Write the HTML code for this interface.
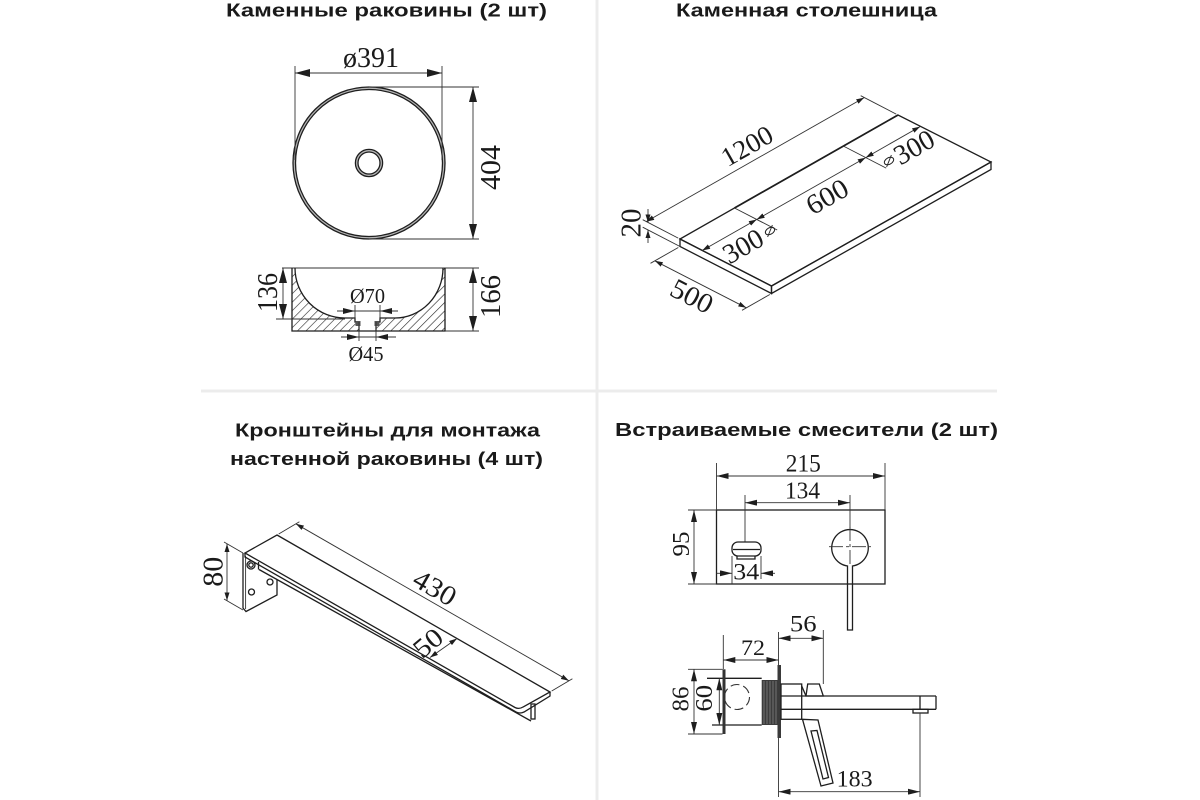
<!DOCTYPE html>
<html>
<head>
<meta charset="utf-8">
<style>
html,body{margin:0;padding:0;background:#fff;}
svg{display:block;}
.t{font-family:"Liberation Sans","DejaVu Sans",sans-serif;font-weight:bold;fill:#1a1a1a;font-size:18px;}
.n{font-family:"Liberation Serif","DejaVu Serif",serif;fill:#1a1a1a;}
.o{fill:none;stroke:#1e1e1e;stroke-width:1.3;}
.d{fill:none;stroke:#333;stroke-width:0.9;}
</style>
</head>
<body>
<svg width="1200" height="800" viewBox="0 0 1200 800" xmlns="http://www.w3.org/2000/svg">
<defs>
<marker id="mL" viewBox="0 0 15 8" refX="15" refY="4" markerWidth="15" markerHeight="8" markerUnits="userSpaceOnUse" orient="auto-start-reverse"><path d="M0,0L15,4L0,8z" fill="#1e1e1e"/></marker>
<marker id="mM" viewBox="0 0 12 6" refX="12" refY="3" markerWidth="12" markerHeight="6" markerUnits="userSpaceOnUse" orient="auto-start-reverse"><path d="M0,0L12,3L0,6z" fill="#1e1e1e"/></marker>
<marker id="mS" viewBox="0 0 8 5" refX="8" refY="2.5" markerWidth="8" markerHeight="5" markerUnits="userSpaceOnUse" orient="auto-start-reverse"><path d="M0,0L8,2.5L0,5z" fill="#1e1e1e"/></marker>
<pattern id="hatch" width="6" height="6" patternUnits="userSpaceOnUse" patternTransform="rotate(45)"><line x1="0" y1="-1" x2="0" y2="7" stroke="#222" stroke-width="1.2"/></pattern>
</defs>

<rect width="1200" height="800" fill="#fff"/>

<!-- separators -->
<line x1="597" y1="0" x2="597" y2="800" stroke="#ececec" stroke-width="3"/>
<line x1="201" y1="391" x2="997" y2="391" stroke="#ececec" stroke-width="3"/>

<!-- titles -->
<text class="t" x="226" y="16.5" textLength="321" lengthAdjust="spacingAndGlyphs">Каменные раковины (2 шт)</text>
<text class="t" x="676" y="16.5" textLength="261" lengthAdjust="spacingAndGlyphs">Каменная столешница</text>
<text class="t" x="235" y="436.5" textLength="305" lengthAdjust="spacingAndGlyphs">Кронштейны для монтажа</text>
<text class="t" x="230" y="465" textLength="313" lengthAdjust="spacingAndGlyphs">настенной раковины (4 шт)</text>
<text class="t" x="615" y="436" textLength="383" lengthAdjust="spacingAndGlyphs">Встраиваемые смесители (2 шт)</text>

<!-- ============ SINK TOP VIEW ============ -->
<circle cx="369" cy="163" r="74.8" fill="none" stroke="#b5b5b5" stroke-width="1.6"/>
<circle cx="369" cy="163" r="76" class="o" stroke-width="1.1"/>
<circle cx="369" cy="163" r="73.5" class="o" stroke-width="1"/>
<circle cx="369" cy="163" r="12.3" fill="none" stroke="#b5b5b5" stroke-width="1.6"/>
<circle cx="369" cy="163" r="13.6" class="o" stroke-width="1.1"/>
<circle cx="369" cy="163" r="11" class="o" stroke-width="1"/>
<!-- ø391 -->
<line class="d" x1="295" y1="66" x2="295" y2="160"/>
<line class="d" x1="442" y1="66" x2="442" y2="160"/>
<line class="d" x1="295" y1="73" x2="442" y2="73" marker-start="url(#mL)" marker-end="url(#mL)"/>
<text class="n" x="371" y="67" font-size="28" text-anchor="middle" textLength="56" lengthAdjust="spacingAndGlyphs">ø391</text>
<!-- 404 -->
<line class="d" x1="369" y1="87" x2="479" y2="87"/>
<line class="d" x1="369" y1="239" x2="479" y2="239"/>
<line class="d" x1="473" y1="87" x2="473" y2="239" marker-start="url(#mL)" marker-end="url(#mL)"/>
<text class="n" transform="translate(490,167.5) rotate(-90)" x="0" y="10" font-size="29" text-anchor="middle" textLength="45" lengthAdjust="spacingAndGlyphs">404</text>

<!-- ============ SINK SECTION ============ -->
<path d="M292,268 L295,268 A50,50 0 0 0 345,318 L355,318 L355,322 L359,322 L359,331 L292,331 Z M376,331 L376,322 L380,322 L380,318 L395,318 A48,50 0 0 0 443,268 L445,268 L445,331 Z" fill="url(#hatch)" stroke="none"/>
<line class="d" x1="282" y1="268" x2="479" y2="268"/>
<path class="o" d="M292,268 L292,331 L445,331 L445,268"/>
<path class="o" d="M295,268 A50,50 0 0 0 345,318 L355,318 L355,322 L359,322 L359,331 M376,331 L376,322 L380,322 L380,318 L395,318 A48,50 0 0 0 443,268"/>
<rect x="355.5" y="321" width="5" height="5" fill="#555"/>
<rect x="374.5" y="321" width="5" height="5" fill="#555"/>
<!-- 136 -->
<line class="d" x1="276" y1="319" x2="345" y2="319"/>
<line class="d" x1="283" y1="268" x2="283" y2="319" marker-start="url(#mL)" marker-end="url(#mL)"/>
<text class="n" transform="translate(267.5,292.5) rotate(-90)" x="0" y="9.5" font-size="28" text-anchor="middle" textLength="39" lengthAdjust="spacingAndGlyphs">136</text>
<!-- 166 -->
<line class="d" x1="445" y1="331" x2="479" y2="331"/>
<line class="d" x1="473" y1="268" x2="473" y2="331" marker-start="url(#mL)" marker-end="url(#mL)"/>
<text class="n" transform="translate(490,296.5) rotate(-90)" x="0" y="10" font-size="29" text-anchor="middle" textLength="43" lengthAdjust="spacingAndGlyphs">166</text>
<!-- Ø70 -->
<line class="d" x1="355" y1="305" x2="355" y2="319"/>
<line class="d" x1="380" y1="305" x2="380" y2="319"/>
<line class="d" x1="355" y1="311" x2="380" y2="311"/>
<line class="d" x1="337" y1="311" x2="355" y2="311" marker-end="url(#mM)"/>
<line class="d" x1="398" y1="311" x2="380" y2="311" marker-end="url(#mM)"/>
<text class="n" x="367.5" y="303" font-size="21" text-anchor="middle" textLength="35" lengthAdjust="spacingAndGlyphs">Ø70</text>
<!-- Ø45 -->
<line class="d" x1="359" y1="322" x2="359" y2="341"/>
<line class="d" x1="376" y1="322" x2="376" y2="341"/>
<line class="d" x1="359" y1="337" x2="376" y2="337"/>
<line class="d" x1="341" y1="337" x2="359" y2="337" marker-end="url(#mM)"/>
<line class="d" x1="396" y1="337" x2="376" y2="337" marker-end="url(#mM)"/>
<text class="n" x="366" y="361" font-size="21" text-anchor="middle" textLength="35" lengthAdjust="spacingAndGlyphs">Ø45</text>

<!-- ============ COUNTERTOP ============ -->
<polygon class="o" points="680,239 771.5,286 991,162 898,115" fill="#fff"/>
<polygon class="o" points="680,239 771.5,286 771.5,293.5 680,246.5" fill="#fff"/>
<polygon class="o" points="771.5,286 991,162 991,169.5 771.5,293.5" fill="#fff"/>
<line x1="734.5" y1="208" x2="898" y2="115" stroke="#1e1e1e" stroke-width="1.7"/>
<!-- 1200 -->
<line class="d" x1="678.2" y1="238.1" x2="642.7" y2="219.7"/>
<line class="d" x1="896.2" y1="114.1" x2="860.7" y2="95.7"/>
<line class="d" x1="646.2" y1="221.6" x2="864.2" y2="97.6" marker-start="url(#mS)" marker-end="url(#mS)"/>
<text class="n" transform="translate(747,146) rotate(-29.6)" x="0" y="9" font-size="27" text-anchor="middle" textLength="55" lengthAdjust="spacingAndGlyphs">1200</text>
<!-- 20 -->
<line class="d" x1="680" y1="246.5" x2="642.7" y2="227.2"/>
<line class="d" x1="648" y1="209" x2="648" y2="222.5" marker-end="url(#mS)"/>
<line class="d" x1="648" y1="243" x2="648" y2="230" marker-end="url(#mS)"/>
<text class="n" transform="translate(631,223) rotate(-90)" x="0" y="9.5" font-size="28" text-anchor="middle" textLength="29" lengthAdjust="spacingAndGlyphs">20</text>
<!-- 500 -->
<line class="d" x1="678.3" y1="247.5" x2="650.5" y2="263.3"/>
<line class="d" x1="769.8" y1="294.5" x2="742" y2="310.3"/>
<line class="d" x1="654.8" y1="260.8" x2="746.3" y2="307.8" marker-start="url(#mS)" marker-end="url(#mS)"/>
<text class="n" transform="translate(692,296) rotate(27.3)" x="0" y="9.5" font-size="28" text-anchor="middle" textLength="44" lengthAdjust="spacingAndGlyphs">500</text>
<!-- sink positions -->
<line class="d" x1="734.5" y1="208" x2="777.2" y2="230"/>
<line class="d" x1="843.5" y1="146.1" x2="886.2" y2="168.1"/>
<line class="d" x1="702.2" y1="250.5" x2="756.7" y2="219.5" marker-start="url(#mS)" marker-end="url(#mS)"/>
<line class="d" x1="756.7" y1="219.5" x2="865.7" y2="157.6" marker-start="url(#mS)" marker-end="url(#mS)"/>
<line class="d" x1="865.7" y1="157.6" x2="920.1" y2="126.6" marker-start="url(#mS)" marker-end="url(#mS)"/>
<text class="n" transform="translate(743,246) rotate(-29.6)" x="0" y="9.5" font-size="28" text-anchor="middle" textLength="42" lengthAdjust="spacingAndGlyphs">300</text>
<text class="n" transform="translate(827,196.5) rotate(-29.6)" x="0" y="9.5" font-size="28" text-anchor="middle" textLength="44" lengthAdjust="spacingAndGlyphs">600</text>
<text class="n" transform="translate(914,147) rotate(-29.6)" x="0" y="9.5" font-size="28" text-anchor="middle" textLength="42" lengthAdjust="spacingAndGlyphs">300</text>
<g transform="translate(770,231) rotate(-29.6)"><ellipse cx="0" cy="0" rx="5" ry="3.3" fill="none" stroke="#222" stroke-width="1"/><line x1="-5" y1="4" x2="5" y2="-4" stroke="#222" stroke-width="0.9"/></g>
<g transform="translate(889,161) rotate(-29.6)"><ellipse cx="0" cy="0" rx="5" ry="3.3" fill="none" stroke="#222" stroke-width="1"/><line x1="-5" y1="4" x2="5" y2="-4" stroke="#222" stroke-width="0.9"/></g>

<!-- ============ BRACKET ============ -->
<path class="o" d="M243,553 L243,608 L246,611.5 L277,595 L277,579.5" fill="#fff"/>
<line class="d" x1="245.6" y1="556" x2="245.6" y2="609"/>
<circle cx="251" cy="565" r="4" class="o" stroke-width="1.1"/>
<circle cx="251" cy="565" r="2.2" class="o" stroke-width="0.9"/>
<circle cx="270" cy="582" r="3" class="o" stroke-width="1.1"/>
<circle cx="251.5" cy="592" r="3" class="o" stroke-width="1.1"/>
<line class="o" x1="258.5" y1="562" x2="258.5" y2="569.5"/>
<line class="o" x1="259" y1="569.5" x2="531" y2="721"/>
<rect x="531" y="704" width="4" height="15" class="o" fill="#fff"/>
<path class="o" d="M245,553 L245,557 L516,712 Q520,714 524,712 L550,696 L550,692" fill="#fff"/>
<path class="o" d="M277,535 L550,692 L523,707 Q519,709.5 515,707.5 L245,553 Z" fill="#fff"/>
<!-- 430 -->
<line class="d" x1="278.7" y1="534" x2="299.4" y2="521.7"/>
<line class="d" x1="551.7" y1="691" x2="572.4" y2="678.7"/>
<line class="d" x1="295.9" y1="523.8" x2="568.9" y2="680.8" marker-start="url(#mS)" marker-end="url(#mS)"/>
<text class="n" transform="translate(435,587.5) rotate(30)" x="0" y="9.5" font-size="28" text-anchor="middle" textLength="45" lengthAdjust="spacingAndGlyphs">430</text>
<!-- 50 -->
<line class="d" x1="430" y1="657.5" x2="457" y2="638.5" marker-start="url(#mS)" marker-end="url(#mS)"/>
<text class="n" transform="translate(428,643) rotate(-40)" x="0" y="9" font-size="27" text-anchor="middle" textLength="30" lengthAdjust="spacingAndGlyphs">50</text>
<!-- 80 -->
<line class="d" x1="224" y1="542" x2="243" y2="553"/>
<line class="d" x1="224" y1="599" x2="243" y2="610"/>
<line class="d" x1="227" y1="544" x2="227" y2="600.5" marker-start="url(#mS)" marker-end="url(#mS)"/>
<text class="n" transform="translate(213,571.7) rotate(-90)" x="0" y="9.5" font-size="28" text-anchor="middle" textLength="30" lengthAdjust="spacingAndGlyphs">80</text>

<!-- ============ FAUCET FRONT ============ -->
<rect x="716.5" y="510" width="168.5" height="74" class="o" stroke-width="1.5"/>
<line class="d" x1="716.5" y1="463" x2="716.5" y2="510"/>
<line class="d" x1="885" y1="463" x2="885" y2="510"/>
<line class="d" x1="716.5" y1="476" x2="885" y2="476" marker-start="url(#mM)" marker-end="url(#mM)"/>
<text class="n" x="803.3" y="471.7" font-size="25" text-anchor="middle" textLength="35" lengthAdjust="spacingAndGlyphs">215</text>
<line class="d" x1="745" y1="495" x2="745" y2="542"/>
<line class="d" x1="850" y1="495" x2="850" y2="528"/>
<line class="d" x1="745" y1="502.7" x2="850" y2="502.7" marker-start="url(#mM)" marker-end="url(#mM)"/>
<text class="n" x="802.5" y="498.3" font-size="24" text-anchor="middle" textLength="35" lengthAdjust="spacingAndGlyphs">134</text>
<path class="o" d="M847.5,630 L847.5,566 A18.3,18.3 0 1 1 852.5,566 L852.5,630 Z" fill="#fff"/>
<line class="d" x1="829" y1="546.7" x2="871" y2="546.7" stroke-dasharray="14,3,3,3"/>
<line class="d" x1="850" y1="527" x2="850" y2="566" stroke-dasharray="14,3,3,3"/>
<rect x="732" y="542" width="29" height="14" rx="6" class="o" fill="#fff"/>
<line class="o" x1="733" y1="549.5" x2="760" y2="549.5"/>
<path class="o" d="M737,556 L737,559 L755,559 L755,556"/>
<line class="d" x1="732" y1="556" x2="732" y2="584"/>
<line class="d" x1="761" y1="556" x2="761" y2="579"/>
<line class="d" x1="716.5" y1="573.3" x2="732" y2="573.3" marker-end="url(#mM)"/>
<line class="d" x1="775" y1="573.3" x2="761" y2="573.3" marker-end="url(#mM)"/>
<text class="n" x="746.3" y="579.3" font-size="23" text-anchor="middle" textLength="26" lengthAdjust="spacingAndGlyphs">34</text>
<line class="d" x1="688" y1="510" x2="716.5" y2="510"/>
<line class="d" x1="688" y1="584" x2="716.5" y2="584"/>
<line class="d" x1="694" y1="510" x2="694" y2="584" marker-start="url(#mM)" marker-end="url(#mM)"/>
<text class="n" transform="translate(681,544) rotate(-90)" x="0" y="8" font-size="24" text-anchor="middle" textLength="25" lengthAdjust="spacingAndGlyphs">95</text>

<!-- ============ FAUCET SIDE ============ -->
<line class="d" x1="778.5" y1="632" x2="778.5" y2="665"/>
<line class="d" x1="778.5" y1="738" x2="778.5" y2="797"/>
<rect x="777.5" y="665" width="3.5" height="73" fill="#3a3a3a"/>
<line class="o" x1="707" y1="678.3" x2="761.7" y2="678.3"/>
<line class="o" x1="712" y1="725" x2="761.7" y2="725"/>
<rect x="722.5" y="669.3" width="3" height="64.7" fill="#333"/>
<circle cx="737" cy="697" r="12.5" fill="none" stroke="#333" stroke-width="1.1" stroke-dasharray="9,4"/>
<rect x="761.7" y="680" width="16" height="45" fill="#3c3c3c"/>
<g stroke="#8a8a8a" stroke-width="0.7">
<line x1="764" y1="681" x2="764" y2="724"/><line x1="767" y1="681" x2="767" y2="724"/><line x1="770" y1="681" x2="770" y2="724"/><line x1="773" y1="681" x2="773" y2="724"/><line x1="776" y1="681" x2="776" y2="724"/>
</g>
<rect x="781" y="684" width="20.7" height="35.3" class="o" fill="#fff"/>
<line class="o" x1="781" y1="696" x2="936" y2="696"/>
<line class="o" x1="781" y1="709.3" x2="936" y2="709.3"/>
<line class="o" x1="936" y1="696" x2="936" y2="709.3"/>
<line class="o" x1="920" y1="696" x2="920" y2="709.3"/>
<rect x="913" y="709.3" width="15" height="3.7" class="o" fill="#fff"/>
<polygon class="o" points="807.7,684 819.3,684 823.3,696 806,696" fill="#fff"/>
<line class="o" x1="801.7" y1="686" x2="806" y2="696"/>
<!-- lever -->
<polygon class="o" points="802.5,719.3 818,720 833,783 821,786" fill="#fff"/>
<polygon class="o" points="811,731 817,730.5 828.5,777.5 823,779" fill="#fff"/>
<!-- 56 -->
<line class="d" x1="823.3" y1="630" x2="823.3" y2="684"/>
<line class="d" x1="778.5" y1="638.3" x2="823.3" y2="638.3" marker-start="url(#mM)" marker-end="url(#mM)"/>
<text class="n" x="803.3" y="631.7" font-size="23" text-anchor="middle" textLength="26.7" lengthAdjust="spacingAndGlyphs">56</text>
<!-- 72 -->
<line class="d" x1="723.3" y1="635" x2="723.3" y2="669"/>
<line class="d" x1="723.3" y1="660" x2="778.5" y2="660" marker-start="url(#mM)" marker-end="url(#mM)"/>
<text class="n" x="753" y="655" font-size="22" text-anchor="middle" textLength="24" lengthAdjust="spacingAndGlyphs">72</text>
<!-- 183 -->
<line class="d" x1="920" y1="713" x2="920" y2="797"/>
<line class="d" x1="778.5" y1="791.7" x2="920" y2="791.7" marker-start="url(#mM)" marker-end="url(#mM)"/>
<text class="n" x="854.7" y="786.7" font-size="23" text-anchor="middle" textLength="36" lengthAdjust="spacingAndGlyphs">183</text>
<!-- 86 -->
<line class="d" x1="688" y1="669.3" x2="722.5" y2="669.3"/>
<line class="d" x1="688" y1="734" x2="722.5" y2="734"/>
<line class="d" x1="694" y1="669.3" x2="694" y2="734" marker-start="url(#mM)" marker-end="url(#mM)"/>
<text class="n" transform="translate(680.5,699) rotate(-90)" x="0" y="8" font-size="24" text-anchor="middle" textLength="25" lengthAdjust="spacingAndGlyphs">86</text>
<!-- 60 -->
<line class="d" x1="719.3" y1="678.3" x2="719.3" y2="725" marker-start="url(#mM)" marker-end="url(#mM)"/>
<text class="n" transform="translate(704,698.3) rotate(-90)" x="0" y="8" font-size="24" text-anchor="middle" textLength="26.7" lengthAdjust="spacingAndGlyphs">60</text>
</svg>
</body>
</html>
